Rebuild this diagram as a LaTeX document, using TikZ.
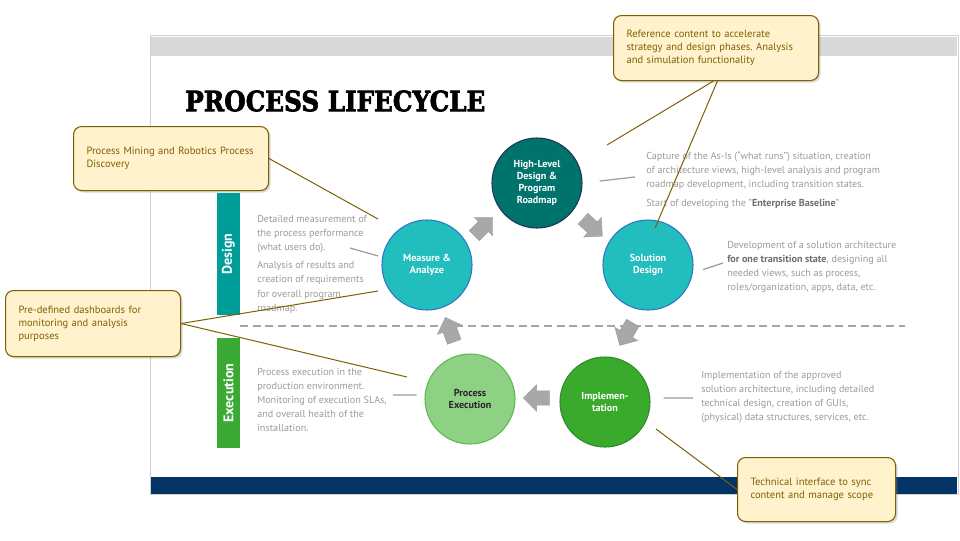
\documentclass[tikz,border=0pt]{standalone}
\usepackage{fontspec}
\usepackage{graphicx}
\setmainfont{PT Sans}
\newfontfamily\titlefont[BoldFeatures={FakeBold=2.5}]{DejaVu Serif}
\usepackage{tikz}
\usetikzlibrary{positioning,shapes.arrows,shadows}
\frenchspacing
\definecolor{slideedge}{RGB}{208,208,208}
\definecolor{topgrey}{RGB}{217,217,217}
\definecolor{navy}{RGB}{4,52,102}
\definecolor{designbar}{RGB}{0,158,152}
\definecolor{execbar}{RGB}{58,170,53}
\definecolor{tealdark}{RGB}{0,116,108}
\definecolor{navyedge}{RGB}{30,50,90}
\definecolor{tealmid}{RGB}{34,190,190}
\definecolor{circblue}{RGB}{46,117,200}
\definecolor{greenimp}{RGB}{58,170,45}
\definecolor{greenedge}{RGB}{45,140,40}
\definecolor{greenlight}{RGB}{142,208,132}
\definecolor{greenedge2}{RGB}{95,185,80}
\definecolor{infogrey}{RGB}{155,155,155}
\definecolor{infodark}{RGB}{110,110,110}
\definecolor{arrowgrey}{RGB}{168,168,168}
\definecolor{callfill}{RGB}{255,242,204}
\definecolor{calledge}{RGB}{127,96,0}

\begin{document}
\begin{tikzpicture}[x=0.75pt, y=-0.75pt,
	phase/.style={circle, draw=circblue, line width=0.8pt, minimum size=67.5pt, inner sep=0pt, align=center, text=white, font=\fontsize{7.6}{9}\selectfont\bfseries},
	phasebar/.style={rotate=90, minimum height=17.25pt, inner sep=0pt, text=white, font=\fontsize{10.5}{12}\selectfont\bfseries},
	flow/.style={single arrow, fill=arrowgrey, draw=infogrey, line width=0.3pt, inner sep=5.25pt, single arrow head extend=4.5pt, minimum height=19.5pt},
	infotext/.style={anchor=north west, align=left, inner sep=0pt, text=infogrey, font=\fontsize{7.6}{10.6}\selectfont},
	infoline/.style={draw=infogrey, line width=0.9pt},
	callout/.style={rectangle, anchor=north west, rounded corners=6pt, draw=calledge, line width=0.8pt, fill=callfill, text=calledge, align=left, inner xsep=9.75pt, inner ysep=0pt, font=\fontsize{7.9}{9.75}\selectfont, drop shadow={shadow xshift=1.5pt, shadow yshift=-1.5pt, opacity=0.3}},
	pointer/.style={draw=calledge, line width=0.75pt}]

	\useasboundingbox (0,0) rectangle (960,540);
	\fill[white] (0,0) rectangle (960,540);
	\draw[slideedge, fill=white] (150,35) rectangle (958,494);
	\fill[topgrey] (151,37) rectangle (957,56);
	\fill[navy] (151,477) rectangle (957,494);

	\node[anchor=west, inner sep=0pt, font=\titlefont\fontsize{21}{21}\selectfont\bfseries] (title) at (185,101) {\scalebox{0.88}[1]{PROCESS LIFECYCLE}};

	\node[phasebar, fill=designbar, minimum width=91.5pt] (design) at (228.5,254) {Design};
	\node[phasebar, fill=execbar, minimum width=82.5pt] (execution) at (228.5,393) {Execution};
	\draw[infogrey!90, line width=1.5pt, dash pattern=on 6pt off 3.5pt] (240,326) -- (905,326);

	\node[phase, fill=tealdark, draw=navyedge] (roadmap) at (537,183) {High-Level\\Design \&\\Program\\Roadmap};
	\node[phase, fill=tealmid] (measure) at (427,265) {Measure \&\\Analyze};
	\node[phase, fill=tealmid] (solution) at (648,265) {Solution\\Design};
	\node[phase, fill=greenimp, draw=greenedge] (implement) at (605,402) {Implemen-\\tation};
	\node[phase, fill=greenlight, draw=greenedge2, text=black!85] (execute) at (470,399) {Process\\Execution};

	\node[flow, rotate=45] (toroadmap) at (481,229) {};
	\node[flow, rotate=-42] (tosolution) at (590,225) {};
	\node[flow, rotate=-120] (toimplement) at (628,331) {};
	\node[flow, rotate=180] (toexecute) at (540,398) {};
	\node[flow, rotate=110] (tomeasure) at (451,333) {};

	\node[infotext] (measuretxt) at (257,215) {Detailed measurement of\\the process performance\\(what users do).\\[3pt]Analysis of results and\\creation of requirements\\for overall program\\roadmap.};
	\node[infotext] (roadmaptxt) at (646,151) {Capture of the As-Is (“what runs”) situation, creation\\of architecture views, high-level analysis and program\\roadmap development, including transition states.\\[4pt]Start of developing the "\textcolor{infodark}{\textbf{Enterprise Baseline}}"};
	\node[infotext] (solutiontxt) at (727,241) {Development of a solution architecture\\\textcolor{infodark}{\textbf{for one transition state}}, designing all\\needed views, such as process,\\roles/organization, apps, data, etc.};
	\node[infotext] (executetxt) at (257,368) {Process execution in the\\production environment.\\Monitoring of execution SLAs,\\and overall health of the\\installation.};
	\node[infotext] (implementtxt) at (701,371) {Implementation of the approved\\solution architecture, including detailed\\technical design, creation of GUIs,\\(physical) data structures, services, etc.};

	\coordinate (measurecap) at (350,248);
	\coordinate (roadmapcap) at (635,177);
	\coordinate (solutioncap) at (723,263);
	\coordinate (executecap) at (393,395);
	\coordinate (implementcap) at (693,398);
	\draw[infoline, shorten <=3pt] (measure.170) -- (measurecap);
	\draw[infoline, shorten <=13pt] (roadmap.east) -- (roadmapcap);
	\draw[infoline, shorten <=8pt] (solution.-10) -- (solutioncap);
	\draw[infoline, shorten <=6pt] (execute.175) -- (executecap);
	\draw[infoline, shorten <=10pt] (implement.5) -- (implementcap);

	\node[callout, text width=126.75pt, minimum height=48pt] (mining) at (73,126) {Process Mining and Robotics Process\\Discovery};
	\node[callout, text width=134.25pt, minimum height=48.75pt] (reference) at (613,15) {Reference content to accelerate\\strategy and design phases. Analysis\\and simulation functionality};
	\node[callout, text width=111.75pt, minimum height=49.5pt] (dashboards) at (5,290) {Pre-defined dashboards for\\monitoring and analysis\\purposes};
	\node[callout, text width=99pt, minimum height=48pt] (interface) at (737,457) {Technical interface to sync\\content and manage scope};

	\coordinate (miningtip) at (378,219);
	\coordinate (referencetipa) at (607,145);
	\coordinate (referencetipb) at (655,228);
	\coordinate (dashboardstipa) at (378,291);
	\coordinate (dashboardstipb) at (407,377);
	\coordinate (interfacetip) at (656,429);
	\draw[pointer] (mining.east) -- (miningtip);
	\draw[pointer] ([xshift=-2pt]reference.south) -- (referencetipa);
	\draw[pointer] ([xshift=1pt]reference.south) -- (referencetipb);
	\draw[pointer] (dashboards.east) -- (dashboardstipa);
	\draw[pointer] (dashboards.east) -- (dashboardstipb);
	\draw[pointer] (interface.west) -- (interfacetip);
\end{tikzpicture}
\end{document}
